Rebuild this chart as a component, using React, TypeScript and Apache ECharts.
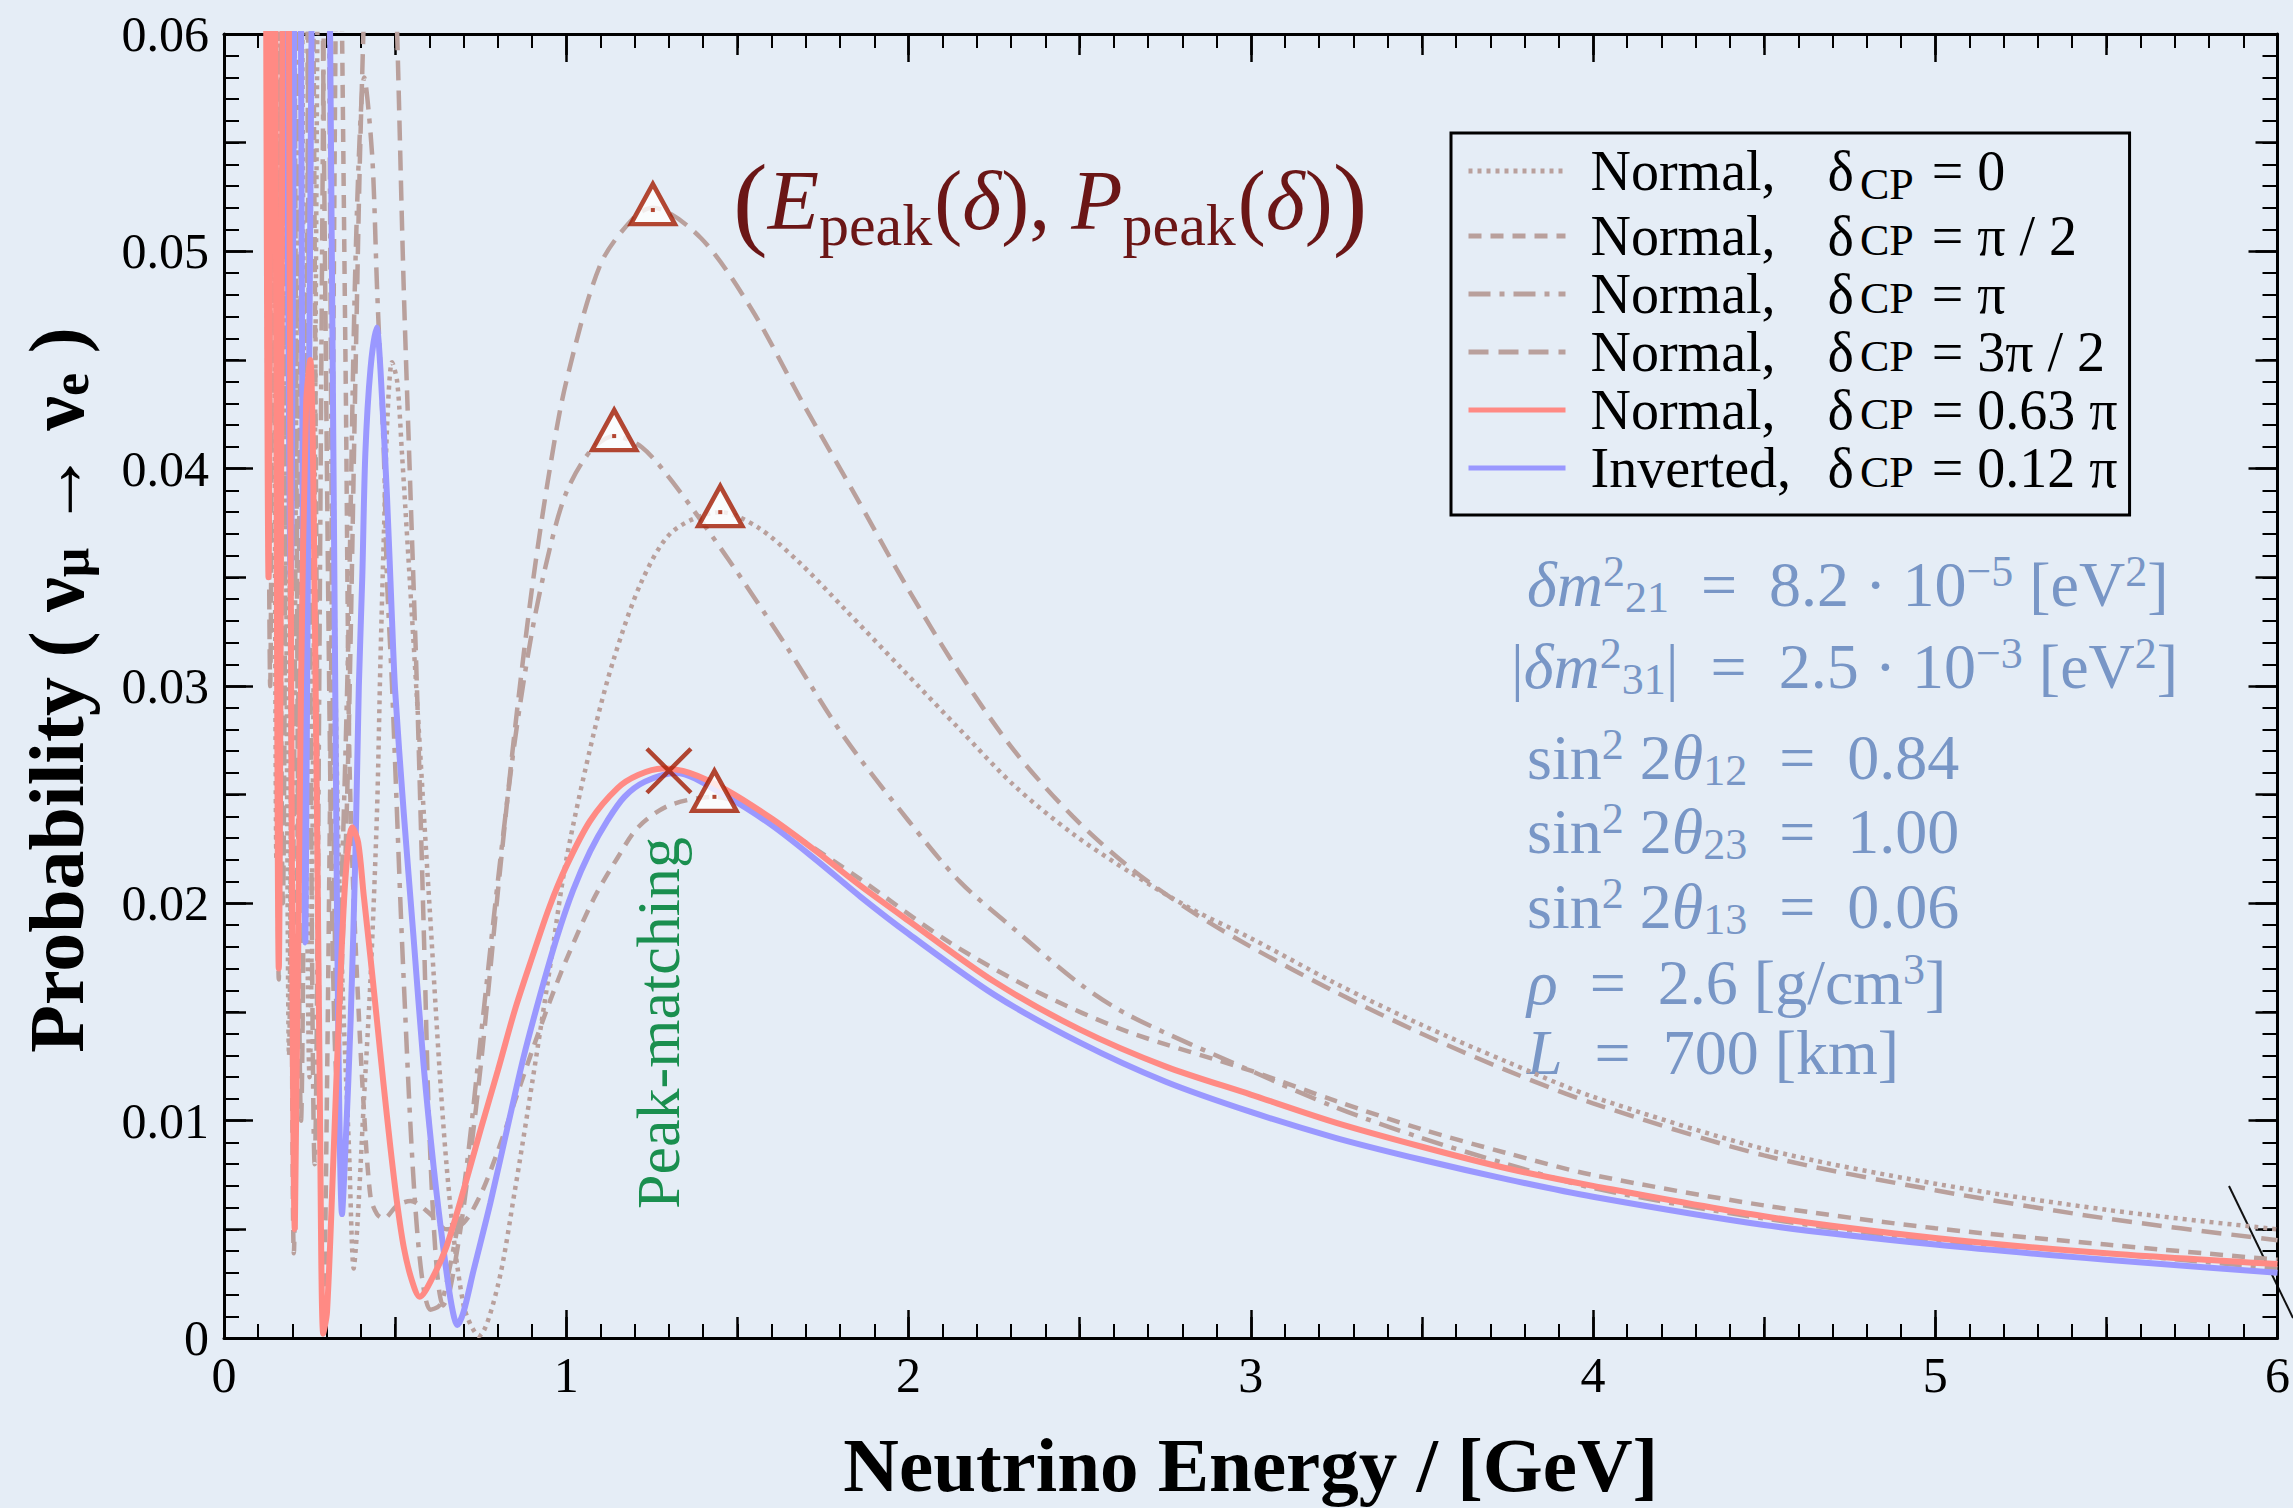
import React, { useEffect, useRef } from 'react';
import * as echarts from 'echarts';

type Pt = [number, number];

// ---- data: [energy GeV, probability] ----
const nh0: Pt[] = [
  [0.12, 0.085], [0.13, 0.035], [0.14, 0.09], [0.153, 0.022], [0.168, 0.09], [0.19, 0.013], [0.215, 0.09],
  [0.25, 0.012], [0.29, 0.09], [0.315, 0.05], [0.326, 0.03], [0.335, 0.0223], [0.35, 0.0146], [0.365, 0.0088],
  [0.379, 0.0032], [0.389, 0.005], [0.408, 0.0107], [0.428, 0.0165], [0.447, 0.0242], [0.457, 0.0311],
  [0.467, 0.0369], [0.478, 0.0425], [0.491, 0.0449], [0.506, 0.044], [0.52, 0.0407], [0.55, 0.033], [0.6, 0.02],
  [0.65, 0.008], [0.7, 0.0015], [0.745, 0.0001], [0.8, 0.0024], [0.85, 0.0068], [0.9, 0.0117], [0.95, 0.0168],
  [1.0, 0.022], [1.08, 0.0278], [1.14, 0.0313], [1.22, 0.0348], [1.31, 0.0371], [1.45, 0.038], [1.56, 0.0373],
  [1.68, 0.0357], [1.81, 0.0336], [1.98, 0.0308], [2.15, 0.028], [2.31, 0.0254], [2.48, 0.0232], [2.65, 0.0214],
  [2.82, 0.0198], [3.0, 0.0184], [3.25, 0.0163], [3.5, 0.0144], [3.75, 0.0127], [4.0, 0.0111], [4.5, 0.0087],
  [5.0, 0.0071], [5.5, 0.0059], [6.0, 0.005],
];
const nhHalfPi: Pt[] = [
  [0.12, 0.09], [0.133, 0.04], [0.145, 0.09], [0.16, 0.0165], [0.183, 0.09], [0.204, 0.0039], [0.245, 0.09],
  [0.29, 0.0002], [0.31, 0.025], [0.335, 0.07], [0.355, 0.045], [0.365, 0.028], [0.374, 0.0223], [0.389, 0.0165],
  [0.408, 0.0107], [0.428, 0.0065], [0.447, 0.0057], [0.467, 0.0055], [0.506, 0.0061], [0.545, 0.0063],
  [0.603, 0.0057], [0.65, 0.005], [0.7, 0.0053], [0.75, 0.0066], [0.8, 0.0086], [0.85, 0.0109], [0.9, 0.0132],
  [0.95, 0.0154], [1.0, 0.0174], [1.08, 0.0202], [1.15, 0.0221], [1.21, 0.0235], [1.3, 0.0245], [1.433, 0.0249],
  [1.54, 0.0244], [1.67, 0.0231], [1.86, 0.0211], [2.12, 0.0182], [2.38, 0.0159], [2.64, 0.0141], [3.0, 0.0123],
  [3.25, 0.0109], [3.5, 0.0096], [3.75, 0.0085], [4.0, 0.0075], [4.5, 0.0061], [5.0, 0.00505], [5.5, 0.0043],
  [6.0, 0.0036],
];
const nhPi: Pt[] = [
  [0.12, 0.09], [0.128, 0.04], [0.14, 0.09], [0.158, 0.03], [0.175, 0.09], [0.2, 0.02], [0.23, 0.09],
  [0.265, 0.008], [0.3, 0.07], [0.33, 0.015], [0.36, 0.03], [0.385, 0.05], [0.41, 0.058], [0.433, 0.0544],
  [0.447, 0.0484], [0.467, 0.0407], [0.476, 0.035], [0.491, 0.03], [0.525, 0.0165], [0.564, 0.005],
  [0.603, 0.0013], [0.63, 0.0015], [0.65, 0.0025], [0.7, 0.0068], [0.75, 0.0138], [0.8, 0.021], [0.85, 0.0275],
  [0.9, 0.0325], [0.95, 0.0362], [1.0, 0.0389], [1.07, 0.0408], [1.14, 0.0415], [1.22, 0.041], [1.31, 0.0394],
  [1.475, 0.0358], [1.64, 0.0319], [1.81, 0.0277], [2.0, 0.0238], [2.15, 0.021], [2.31, 0.0188], [2.5, 0.0163],
  [2.65, 0.0148], [3.0, 0.0123], [3.25, 0.0106], [3.5, 0.0092], [3.75, 0.008], [4.0, 0.0069], [4.5, 0.0055],
  [5.0, 0.0045], [5.5, 0.0039], [6.0, 0.0032],
];
const nh3HalfPi: Pt[] = [
  [0.12, 0.08], [0.135, 0.03], [0.15, 0.09], [0.172, 0.02], [0.195, 0.09], [0.225, 0.01], [0.265, 0.09],
  [0.33, 0.012], [0.36, 0.025], [0.385, 0.045], [0.4, 0.056], [0.43, 0.07], [0.46, 0.075], [0.49, 0.068],
  [0.506, 0.06], [0.525, 0.0484], [0.545, 0.0388], [0.564, 0.0298], [0.585, 0.018], [0.6, 0.0095], [0.62, 0.0035],
  [0.64, 0.0015], [0.66, 0.0022], [0.7, 0.006], [0.75, 0.0125], [0.8, 0.0205], [0.85, 0.028], [0.9, 0.0345],
  [0.95, 0.0398], [1.0, 0.044], [1.1, 0.0494], [1.2, 0.0516], [1.253, 0.052], [1.394, 0.0506], [1.543, 0.0473],
  [1.692, 0.043], [1.84, 0.0389], [1.99, 0.0347], [2.145, 0.0307], [2.31, 0.027], [2.48, 0.024], [2.65, 0.0216],
  [2.82, 0.0197], [3.0, 0.018], [3.25, 0.0159], [3.5, 0.014], [3.75, 0.0123], [4.0, 0.0108], [4.5, 0.0084],
  [5.0, 0.0068], [5.5, 0.0055], [6.0, 0.0045],
];
const nh063: Pt[] = [
  [0.12, 0.08], [0.13, 0.035], [0.143, 0.09], [0.16, 0.017], [0.18, 0.09], [0.207, 0.005], [0.225, 0.03],
  [0.24, 0.043], [0.252, 0.045], [0.265, 0.034], [0.28, 0.011], [0.29, 0.0002], [0.301, 0.0012], [0.321, 0.0088],
  [0.34, 0.0165], [0.356, 0.0214], [0.375, 0.0235], [0.392, 0.0228], [0.408, 0.0204], [0.428, 0.0175],
  [0.447, 0.0146], [0.466, 0.0117], [0.486, 0.0088], [0.505, 0.0063], [0.525, 0.0042], [0.548, 0.0027],
  [0.572, 0.0019], [0.61, 0.0028], [0.65, 0.0042], [0.7, 0.0068], [0.75, 0.0096], [0.8, 0.0123], [0.85, 0.0151],
  [0.9, 0.0175], [0.95, 0.0198], [1.0, 0.0217], [1.07, 0.0238], [1.15, 0.0253], [1.21, 0.0259], [1.28, 0.0262],
  [1.36, 0.026], [1.47, 0.0252], [1.6, 0.0239], [1.73, 0.0224], [1.86, 0.0208], [2.0, 0.0192], [2.25, 0.0164],
  [2.5, 0.0142], [2.75, 0.0125], [3.0, 0.0112], [3.25, 0.0099], [3.5, 0.0088], [3.75, 0.0078], [4.0, 0.007],
  [4.5, 0.0056], [5.0, 0.0046], [5.5, 0.0039], [6.0, 0.0034],
];
const ih012: Pt[] = [
  [0.175, 0.09], [0.195, 0.035], [0.215, 0.09],
  [0.238, 0.0182], [0.26, 0.07], [0.285, 0.09], [0.31, 0.06], [0.33, 0.02], [0.345, 0.0057], [0.355, 0.0088],
  [0.37, 0.0146], [0.384, 0.0223], [0.394, 0.03], [0.404, 0.035], [0.413, 0.0407], [0.428, 0.0446],
  [0.446, 0.0465], [0.457, 0.0446], [0.476, 0.0388], [0.491, 0.033], [0.5, 0.0298], [0.525, 0.0242],
  [0.554, 0.0184], [0.583, 0.0126], [0.613, 0.0078], [0.642, 0.004], [0.665, 0.0015], [0.682, 0.0006],
  [0.7, 0.0012], [0.729, 0.0031], [0.778, 0.0062], [0.827, 0.0096], [0.875, 0.0129], [0.924, 0.0158],
  [0.972, 0.0184], [1.02, 0.0206], [1.07, 0.0224], [1.12, 0.0238], [1.17, 0.0249], [1.23, 0.0256], [1.32, 0.026],
  [1.47, 0.0249], [1.6, 0.0236], [1.73, 0.022], [1.86, 0.0203], [2.0, 0.0186], [2.25, 0.0158], [2.5, 0.0136],
  [2.75, 0.0118], [3.0, 0.0104], [3.25, 0.0092], [3.5, 0.0082], [3.75, 0.0073], [4.0, 0.0065], [4.5, 0.0052],
  [5.0, 0.0043], [5.5, 0.0036], [6.0, 0.003],
];

const peakTriangles: Pt[] = [[1.253, 0.0519], [1.14, 0.0415], [1.45, 0.038], [1.433, 0.0249]];
const peakMatch: Pt[] = [[1.3, 0.0261]];

const seriesNames = [
  'Normal, δCP = 0', 'Normal, δCP = π / 2', 'Normal, δCP = π',
  'Normal, δCP = 3π / 2', 'Normal, δCP = 0.63 π', 'Inverted, δCP = 0.12 π',
];
const legendHier = ['Normal,', 'Normal,', 'Normal,', 'Normal,', 'Normal,', 'Inverted,'];
const legendDelta = ['0', 'π / 2', 'π', '3π / 2', '0.63 π', '0.12 π'];

const paramLines = [
  '{i|δm}{sup|2}{sub|21}{t|  =  8.2 · 10}{sup|−5}{t| [eV}{sup|2}{t|]}',
  '{t||}{i|δm}{sup|2}{sub|31}{t||  =  2.5 · 10}{sup|−3}{t| [eV}{sup|2}{t|]}',
  '{t|sin}{sup|2}{t| 2}{i|θ}{sub|12}{t|  =  0.84}',
  '{t|sin}{sup|2}{t| 2}{i|θ}{sub|23}{t|  =  1.00}',
  '{t|sin}{sup|2}{t| 2}{i|θ}{sub|13}{t|  =  0.06}',
  '{i|ρ}{t|  =  2.6 [g/cm}{sup|3}{t|]}',
  '{i|L}{t|  =  700 [km]}',
];
const paramY = [584, 666, 757, 831, 906, 982, 1052];

const FONT = '"Liberation Serif", "Times New Roman", serif';
const BROWN = '#b9a09c';
const RED = '#ff8a84';
const BLUE = '#9a98ff';
const MARK = '#a31a00';
const PARAM = '#7896c6';

export default function App() {
  const ref = useRef<HTMLDivElement>(null);
  useEffect(() => {
    if (!ref.current) return;
    const chart = echarts.init(ref.current, null, { renderer: 'svg' });

    const tickStyle = { color: '#000', width: 2.5 };
    const minorStyle = { color: '#000', width: 2 };
    const mkX = (pos: 'bottom' | 'top', main: boolean): any => ({
      type: 'value', min: 0, max: 6, interval: main ? 1 : 0.5, position: pos,
      axisLine: { show: main, onZero: false, lineStyle: { color: '#000', width: 3 } },
      axisTick: { show: true, inside: true, length: main ? 28 : 21, lineStyle: tickStyle },
      minorTick: { show: main, splitNumber: 10, length: 14, lineStyle: minorStyle },
      splitLine: { show: false }, minorSplitLine: { show: false },
      axisLabel: {
        show: main && pos === 'bottom', margin: 12, color: '#000', fontSize: 50, fontFamily: FONT,
      },
      ...(main && pos === 'bottom' ? {
        name: 'Neutrino Energy / [GeV]', nameLocation: 'middle', nameGap: 88,
        nameTextStyle: { color: '#000', fontSize: 77, fontWeight: 'bold', fontFamily: FONT },
      } : {}),
    });
    const mkY = (pos: 'left' | 'right', main: boolean): any => ({
      type: 'value', min: 0, max: 0.06, interval: main ? 0.01 : 0.005, position: pos,
      axisLine: { show: main, onZero: false, lineStyle: { color: '#000', width: 3 } },
      axisTick: { show: true, inside: true, length: main ? 29 : 22, lineStyle: tickStyle },
      minorTick: { show: main, splitNumber: 10, length: 15, lineStyle: minorStyle },
      splitLine: { show: false }, minorSplitLine: { show: false },
      axisLabel: {
        show: main && pos === 'left', margin: 15, color: '#000', fontSize: 50, fontFamily: FONT,
        formatter: (v: number) => (v === 0 ? '0' : v.toFixed(2)),
      },
    });

    const lineSeries = (name: string, data: Pt[], color: string, width: number, type: any, z: number): any => ({
      name, type: 'line', data, symbol: 'none', showSymbol: false, smooth: 0.3, clip: true, z,
      lineStyle: { color, width, type, cap: 'butt' }, itemStyle: { color },
    });

    const legendFormatter = (name: string) => {
      const i = seriesNames.indexOf(name);
      return `{g|}{n|${legendHier[i]}}{d|δ}{${i === 0 ? 'cs' : 'c'}|CP}{v| = ${legendDelta[i]}}`;
    };

    const richParam = {
      t: { fontSize: 64, fontFamily: FONT, lineHeight: 70, color: PARAM },
      i: { fontSize: 64, fontFamily: FONT, fontStyle: 'italic', lineHeight: 70, color: PARAM },
      sup: { fontSize: 44, fontFamily: FONT, lineHeight: 34, verticalAlign: 'top', color: PARAM },
      sub: { fontSize: 44, fontFamily: FONT, lineHeight: 32, verticalAlign: 'bottom', color: PARAM },
    };

    chart.setOption({
      animation: false,
      backgroundColor: '#e5edf6',
      grid: { left: 224, right: 12, top: 34, bottom: 163 },
      xAxis: [mkX('bottom', true), mkX('bottom', false), mkX('top', true), mkX('top', false)],
      yAxis: [mkY('left', true), mkY('left', false), mkY('right', true), mkY('right', false)],
      legend: {
        data: seriesNames, orient: 'vertical', left: 1451, top: 133, selectedMode: false,
        itemWidth: 97, itemHeight: 14, itemGap: 2, padding: [3, 12, 19, 15],
        borderColor: '#000', borderWidth: 3, backgroundColor: 'transparent',
        itemStyle: { opacity: 0 },
        lineStyle: { width: 5 },
        formatter: legendFormatter,
        textStyle: {
          color: '#000', fontFamily: FONT, fontSize: 56,
          rich: {
            g: { width: 20, lineHeight: 50 },
            n: { width: 237, fontSize: 56, fontFamily: FONT, lineHeight: 50 },
            d: { fontSize: 56, fontFamily: FONT, lineHeight: 50 },
            c: { fontSize: 44, fontFamily: FONT, lineHeight: 10, padding: [8, 4, 0, 6] },
            cs: { fontSize: 44, fontFamily: FONT, lineHeight: 2, padding: [26, 4, 0, 6] },
            v: { fontSize: 56, fontFamily: FONT, lineHeight: 50 },
          },
        },
      },
      series: [
        lineSeries(seriesNames[0], nh0, BROWN, 4.5, [4, 5], 2),
        lineSeries(seriesNames[1], nhHalfPi, BROWN, 4.5, [13, 9], 2),
        lineSeries(seriesNames[2], nhPi, BROWN, 4.5, [22, 9, 5, 9], 2),
        lineSeries(seriesNames[3], nh3HalfPi, BROWN, 4.5, [20, 10], 2),
        lineSeries(seriesNames[4], nh063, RED, 6, 'solid', 4),
        lineSeries(seriesNames[5], ih012, BLUE, 6, 'solid', 3),
        {
          type: 'scatter', data: peakTriangles, symbol: 'triangle', symbolSize: [44, 40], symbolOffset: [0, -6],
          itemStyle: { color: '#ffffff', borderColor: MARK, borderWidth: 4.5 }, z: 6, silent: true,
        },
        {
          type: 'scatter', data: peakTriangles, symbol: 'rect', symbolSize: 4,
          itemStyle: { color: MARK }, z: 7, silent: true,
        },
        {
          type: 'scatter', data: peakMatch, symbol: 'path://M0,0L10,10M10,0L0,10', symbolSize: 44,
          itemStyle: { color: 'transparent', borderColor: MARK, borderWidth: 4.5 }, z: 7, silent: true,
        },
      ],
      graphic: [
        {
          type: 'text', x: 56, y: 690, rotation: Math.PI / 2,
          style: {
            text: '{a|Probability ( ν}{s|μ}{a| → ν}{s|e}{a| )}',
            textAlign: 'center', textVerticalAlign: 'middle', fill: '#000',
            rich: {
              a: { fontSize: 78, fontWeight: 'bold', fontFamily: FONT, lineHeight: 80, fill: '#000' },
              s: { fontSize: 52, fontWeight: 'bold', fontFamily: FONT, lineHeight: 30, verticalAlign: 'bottom', fill: '#000' },
            },
          },
        },
        {
          type: 'text', x: 733, y: 200,
          style: {
            text: '{b|(}{i|E}{s|peak}{n|(}{i|δ}{n|), }{i|P}{s|peak}{n|(}{i|δ}{n|)}{b|)}',
            textAlign: 'left', textVerticalAlign: 'middle', fill: '#6b1616',
            rich: {
              b: { fontSize: 104, fontFamily: FONT, lineHeight: 110, fill: '#6b1616' },
              i: { fontSize: 84, fontFamily: FONT, fontStyle: 'italic', lineHeight: 110, fill: '#6b1616' },
              n: { fontSize: 84, fontFamily: FONT, lineHeight: 110, fill: '#6b1616' },
              s: { fontSize: 60, fontFamily: FONT, lineHeight: 44, verticalAlign: 'bottom', fill: '#6b1616', padding: [0, 2, 0, 0] },
            },
          },
        },
        {
          type: 'text', x: 658, y: 1023, rotation: Math.PI / 2,
          style: {
            text: 'Peak-matching', textAlign: 'center', textVerticalAlign: 'middle',
            fill: '#1a8f4f', fontSize: 62, fontFamily: FONT,
          },
        },
        ...paramLines.map((t, k) => ({
          type: 'text', x: k === 1 ? 1511 : 1527, y: paramY[k],
          style: { text: t, textAlign: 'left', textVerticalAlign: 'middle', rich: richParam, fill: PARAM },
        })),
        {
          type: 'line', shape: { x1: 2229, y1: 1186, x2: 2293, y2: 1318 },
          style: { stroke: '#111', lineWidth: 2 },
        },
      ],
    } as any);
    return () => chart.dispose();
  }, []);
  return <div ref={ref} style={{ position: 'fixed', left: 0, top: 0, width: 2293, height: 1508 }} />;
}
